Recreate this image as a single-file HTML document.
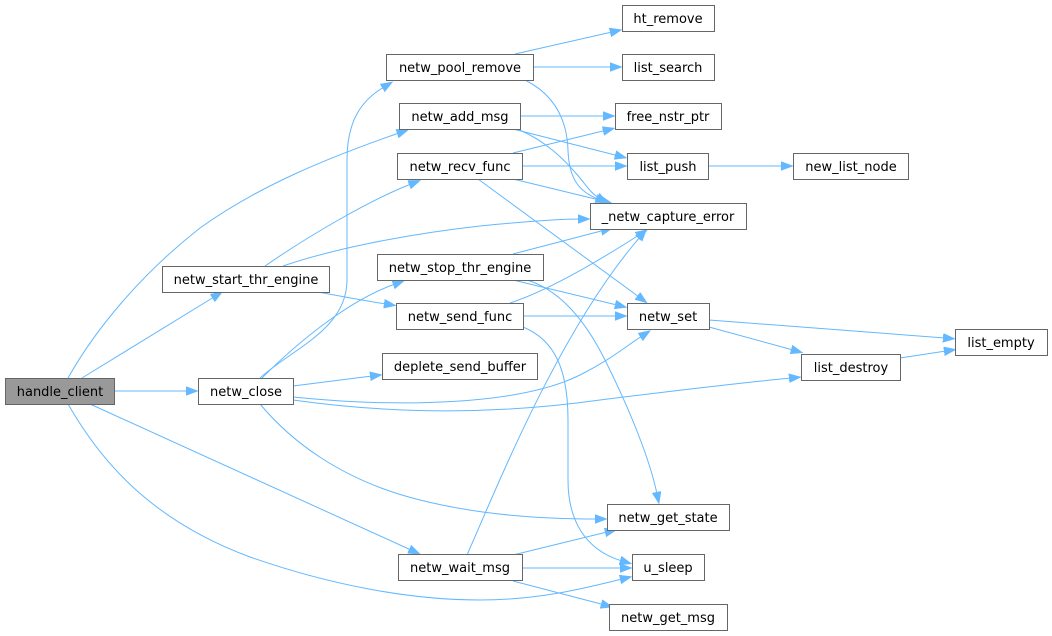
<!DOCTYPE html>
<html><head><meta charset="utf-8"><style>
html,body{margin:0;padding:0;background:#fff;}
svg{display:block;}
text{font-family:"DejaVu Sans","Liberation Sans",sans-serif;font-size:13px;fill:#000;text-anchor:middle;}
.n{fill:#fff;stroke:#666;stroke-width:1;}
.e{fill:none;stroke:#63b8ff;stroke-width:1;marker-end:url(#a);}
</style></head><body>
<svg width="1052" height="636" viewBox="0 0 1052 636" xmlns="http://www.w3.org/2000/svg">
<defs>
<marker id="a" markerUnits="userSpaceOnUse" markerWidth="14" markerHeight="10" refX="2" refY="4.5" orient="auto">
<path d="M0,0 L12,4.5 L0,9 z" fill="#63b8ff" stroke="#63b8ff" stroke-width="0.5"/>
</marker>
</defs>
<!-- edges -->
<path class="e" d="M68,378 C95,330 140,275 200,228 C260,185 330,157 399,133"/>
<path class="e" d="M82,378 L214,297"/>
<path class="e" d="M114,391 L188,391"/>
<path class="e" d="M90,404 L411,550"/>
<path class="e" d="M68,404 C100,460 150,520 250,557 C330,585 410,600 480,600 C540,600 585,588 622,579"/>
<path class="e" d="M265,266 C310,235 370,200 411,184"/>
<path class="e" d="M283,266 C330,250 400,235 480,226 C520,222 555,219 580,219"/>
<path class="e" d="M318,292 C340,296 360,300 386,304"/>
<path class="e" d="M260,378 C290,350 347,330 347,280 L347,160 C347,120 362,100 384,87"/>
<path class="e" d="M262,378 C300,340 350,300 395,284"/>
<path class="e" d="M293,386 L372,376"/>
<path class="e" d="M293,397 C400,408 520,405 580,375 C610,360 625,347 642,336"/>
<path class="e" d="M293,400 C400,415 500,414 600,400 C680,390 740,383 791,378"/>
<path class="e" d="M260,404 C290,440 340,480 420,500 C480,515 540,519 597,519"/>
<path class="e" d="M515,54 L612,32"/>
<path class="e" d="M533,67 L612,67"/>
<path class="e" d="M525,80 C555,95 567,120 568,150 C569,180 580,192 598,199"/>
<path class="e" d="M520,116 L605,116"/>
<path class="e" d="M513,129 L617,155.5"/>
<path class="e" d="M517,129 C545,140 565,160 580,178 C588,188 592,194 599,198"/>
<path class="e" d="M513,153 L605,130.5"/>
<path class="e" d="M522,166 L617,166"/>
<path class="e" d="M513,179 L602,200.6"/>
<path class="e" d="M478,179 L639,297"/>
<path class="e" d="M513,254 L603,230.5"/>
<path class="e" d="M513,280 L617,305"/>
<path class="e" d="M527,280 C560,290 585,320 605,360 C630,410 650,460 657,494"/>
<path class="e" d="M510,303 C550,290 600,260 639,235"/>
<path class="e" d="M523,316 L617,316"/>
<path class="e" d="M523,327 C555,340 568,370 568,420 L568,480 C568,520 585,550 622,561"/>
<path class="e" d="M709,320 L945,338"/>
<path class="e" d="M709,327 L793,350"/>
<path class="e" d="M900,358 L946,351"/>
<path class="e" d="M708,166 L783,166"/>
<path class="e" d="M467,555 C500,480 560,330 640,237"/>
<path class="e" d="M513,555 L607,532"/>
<path class="e" d="M522,568 L622,568"/>
<path class="e" d="M513,581 L603,604.5"/>
<!-- nodes -->
<rect x="5.5" y="378.5" width="109" height="26" fill="#999" stroke="#666"/>
<text x="60" y="396">handle_client</text>
<rect class="n" x="162.5" y="266.5" width="167" height="26"/><text x="246" y="284">netw_start_thr_engine</text>
<rect class="n" x="198.5" y="378.5" width="95" height="26"/><text x="246" y="396">netw_close</text>
<rect class="n" x="386.5" y="54.5" width="147" height="26"/><text x="460" y="72">netw_pool_remove</text>
<rect class="n" x="399.5" y="103.5" width="121" height="26"/><text x="460" y="121">netw_add_msg</text>
<rect class="n" x="397.5" y="153.5" width="125" height="26"/><text x="460" y="171">netw_recv_func</text>
<rect class="n" x="377.5" y="254.5" width="166" height="26"/><text x="460" y="272">netw_stop_thr_engine</text>
<rect class="n" x="396.5" y="303.5" width="127" height="26"/><text x="460" y="321">netw_send_func</text>
<rect class="n" x="382.5" y="353.5" width="155" height="26"/><text x="460" y="371">deplete_send_buffer</text>
<rect class="n" x="398.5" y="554.5" width="124" height="26"/><text x="460" y="572">netw_wait_msg</text>
<rect class="n" x="622.5" y="5.5" width="92" height="26"/><text x="668" y="23">ht_remove</text>
<rect class="n" x="622.5" y="54.5" width="92" height="26"/><text x="668" y="72">list_search</text>
<rect class="n" x="615.5" y="103.5" width="106" height="26"/><text x="668" y="121">free_nstr_ptr</text>
<rect class="n" x="627.5" y="153.5" width="81" height="26"/><text x="668" y="171">list_push</text>
<rect class="n" x="590.5" y="203.5" width="156" height="26"/><text x="668" y="221">_netw_capture_error</text>
<rect class="n" x="627.5" y="303.5" width="82" height="26"/><text x="668" y="321">netw_set</text>
<rect class="n" x="607.5" y="504.5" width="122" height="26"/><text x="668" y="522">netw_get_state</text>
<rect class="n" x="632.5" y="554.5" width="72" height="26"/><text x="668" y="572">u_sleep</text>
<rect class="n" x="609.5" y="604.5" width="118" height="26"/><text x="668" y="622">netw_get_msg</text>
<rect class="n" x="793.5" y="153.5" width="115" height="26"/><text x="851" y="171">new_list_node</text>
<rect class="n" x="955.5" y="329.5" width="92" height="26"/><text x="1001" y="347">list_empty</text>
<rect class="n" x="801.5" y="354.5" width="99" height="26"/><text x="851" y="372">list_destroy</text>
</svg>
</body></html>
